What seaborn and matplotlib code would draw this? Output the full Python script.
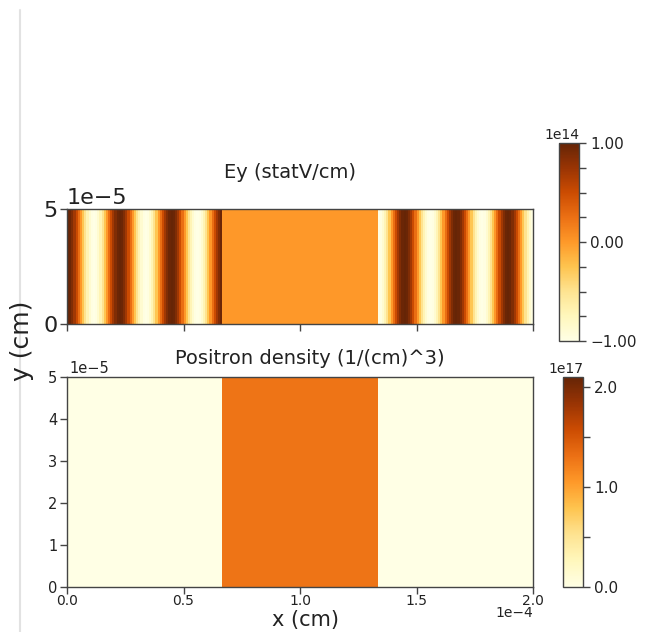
import numpy as np
import matplotlib
matplotlib.use("Agg")
import matplotlib.pyplot as plt
from matplotlib.lines import Line2D
import seaborn as sns

# ---- data -------------------------------------------------------------
# Ey over one wavelength (24 samples per cycle), units of 1e14 statV/cm
ey_cycle = [1.00, 0.97, 0.87, 0.71, 0.50, 0.26, 0.00, -0.26, -0.50, -0.71, -0.87, -0.97,
            -1.00, -0.97, -0.87, -0.71, -0.50, -0.26, 0.00, 0.26, 0.50, 0.71, 0.87, 0.97]
ey_scale = 1e14
n_cycles = 3                 # wavelengths in each vacuum region
n_plasma = 72                # cells in the central slab (field-free)

# positron density in the central slab, units of 1e17 cm^-3
density_slab = 1.28
density_scale = 1e17

# axis ticks (x in units of 1e-4 cm, y in units of 1e-5 cm)
x_length = 2.0
y_length = 5.0
x_ticks = [0.0, 0.5, 1.0, 1.5, 2.0]
y_ticks_top = [0, 5]
y_ticks_bottom = [0, 1, 2, 3, 4, 5]
ey_cbar_ticks = [-1.0, -0.75, -0.5, -0.25, 0.0, 0.25, 0.5, 0.75, 1.0]
ey_cbar_labels = ["\u22121.00", "", "", "", "0.00", "", "", "", "1.00"]
dens_cbar_ticks = [0.0, 0.5, 1.0, 1.5, 2.0]
dens_cbar_labels = ["0.0", "", "1.0", "", "2.0"]
dens_max = 2.1

# ---- grids ------------------------------------------------------------
ey_left = np.tile(ey_cycle, n_cycles)
ey_right = -np.tile(ey_cycle, n_cycles)
ey_profile = np.concatenate([ey_left, np.zeros(n_plasma), ey_right]) * ey_scale
nx = ey_profile.size
n_side = ey_left.size

dens_profile = np.concatenate([np.zeros(n_side),
                               np.full(n_plasma, density_slab),
                               np.zeros(n_side)]) * density_scale

ny = 10
ey_grid = np.tile(ey_profile, (ny, 1))
dens_grid = np.tile(dens_profile, (ny, 1))

# ---- figure -----------------------------------------------------------
sns.set_theme(style="ticks")
plt.rcParams["font.family"] = ["DejaVu Sans"]

W, H = 653, 632
fig = plt.figure(figsize=(W / 100, H / 100), dpi=100)


def box(x0, y0, x1, y1):
    return [x0 / W, 1 - y1 / H, (x1 - x0) / W, (y1 - y0) / H]


ax1 = fig.add_axes(box(67, 209, 533, 324))
cax1 = fig.add_axes(box(559, 143, 579, 341))
ax2 = fig.add_axes(box(67, 377, 533, 587))
cax2 = fig.add_axes(box(563, 377, 583, 587))

cmap = "YlOrBr"
sns.heatmap(ey_grid, ax=ax1, cbar_ax=cax1, cmap=cmap,
            vmin=-ey_scale, vmax=ey_scale,
            xticklabels=False, yticklabels=False)
sns.heatmap(dens_grid, ax=ax2, cbar_ax=cax2, cmap=cmap,
            vmin=0, vmax=dens_max * density_scale,
            xticklabels=False, yticklabels=False)

edge = "#444444"
txt = "#222222"
xpos = [v / x_length * nx for v in x_ticks]
for ax in (ax1, ax2):
    ax.set_ylim(0, ny)
    ax.set_xlim(0, nx)
    for sp in ax.spines.values():
        sp.set_visible(True)
        sp.set_color(edge)
        sp.set_linewidth(1.0)
    ax.tick_params(direction="out", length=5, width=1, color=edge,
                   bottom=True, left=True, labelcolor=txt)
    ax.set_xticks(xpos)

# top panel: field
ax1.set_xticklabels([])
ax1.set_yticks([v / y_length * ny for v in y_ticks_top])
ax1.set_yticklabels([str(v) for v in y_ticks_top], fontsize=16)
ax1.tick_params(axis="y", pad=2)
ax1.text(0.0, 1.01, "1e\u22125", transform=ax1.transAxes, fontsize=16,
         ha="left", va="bottom", color=txt)

# bottom panel: density
ax2.set_xticklabels([f"{v:.1f}" for v in x_ticks], fontsize=10)
ax2.set_yticks([v / y_length * ny for v in y_ticks_bottom])
ax2.set_yticklabels([str(v) for v in y_ticks_bottom], fontsize=10.5, rotation=0)
ax2.tick_params(axis="x", pad=0)
ax2.tick_params(axis="y", pad=2)
ax2.text(0.005, 1.005, "1e\u22125", transform=ax2.transAxes, fontsize=10.5,
         ha="left", va="bottom", color=txt)
ax2.text(1.0, -(606 - 587) / 210, "1e\u22124", transform=ax2.transAxes,
         fontsize=10, ha="right", va="top", color=txt)

# colorbars
for ax, cax in ((ax1, cax1), (ax2, cax2)):
    cb = ax.collections[0].colorbar
    cb.outline.set_visible(True)
    cb.outline.set_linewidth(1.0)
    cb.outline.set_edgecolor(edge)
    cax.tick_params(direction="out", length=5, width=1, color=edge,
                    labelsize=11, labelcolor=txt, pad=3, right=True)

cax1.set_yticks([v * ey_scale for v in ey_cbar_ticks])
cax1.set_yticklabels(ey_cbar_labels)
cax1.text(1.0, 1.005, "1e14", transform=cax1.transAxes, fontsize=10,
          ha="right", va="bottom", color=txt)

cax2.set_yticks([v * density_scale for v in dens_cbar_ticks])
cax2.set_yticklabels(dens_cbar_labels)
cax2.text(1.0, 1.005, "1e17", transform=cax2.transAxes, fontsize=10,
          ha="right", va="bottom", color=txt)

# titles and axis labels
fig.text(290 / W, 1 - 173 / H, "Ey (statV/cm)", fontsize=14,
         ha="center", va="center", color=txt)
fig.text(310 / W, 1 - 358 / H, "Positron density (1/(cm)^3)", fontsize=14,
         ha="center", va="center", color=txt)
fig.text(305 / W, 2 / H, "x (cm)", fontsize=15,
         ha="center", va="bottom", color=txt)
fig.text(22 / W, 1 - 341 / H, "y (cm)", fontsize=18, rotation=90,
         ha="center", va="center", color=txt)

# page margin rule on the left
fig.add_artist(Line2D([19.5 / W, 19.5 / W], [0, 1 - 10 / H],
                      transform=fig.transFigure, color="#e2e2e2", lw=1.5))

fig.savefig("out.png", dpi=100)
